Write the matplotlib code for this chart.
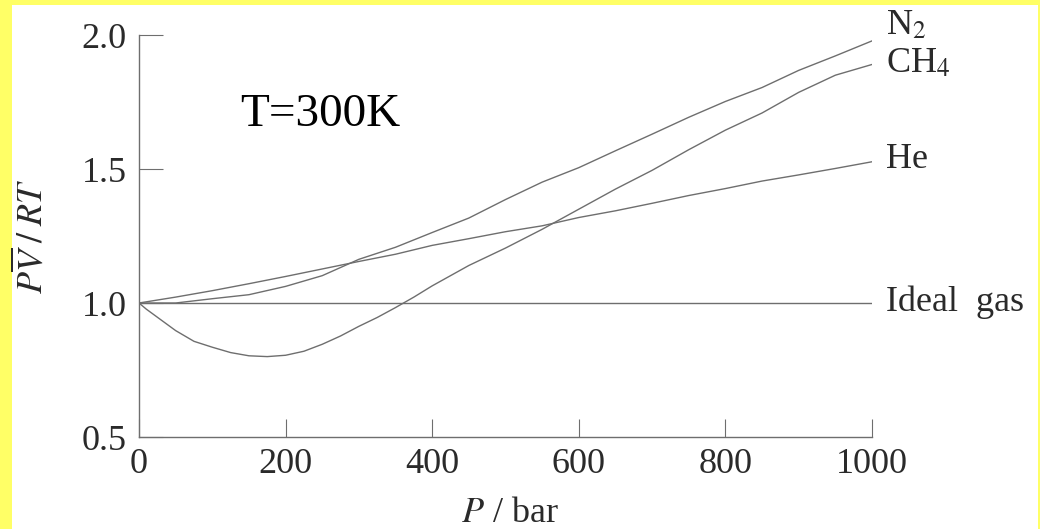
import matplotlib
matplotlib.use("Agg")
import matplotlib.pyplot as plt
from matplotlib.patches import Rectangle

# 数据：T=300K 时各气体的压缩因子 PV/RT
p_n2 = [0, 50, 100, 150, 200, 250, 300, 350, 400, 450, 500, 550, 600, 650, 700, 750, 800, 850, 900, 950, 1000]
z_n2 = [1.0, 1.0, 1.016, 1.031, 1.062, 1.102, 1.163, 1.208, 1.263, 1.317, 1.386, 1.451, 1.505, 1.568, 1.63,
        1.693, 1.752, 1.804, 1.868, 1.922, 1.978]

p_he = [0, 50, 100, 150, 200, 250, 300, 350, 400, 450, 500, 550, 600, 650, 700, 750, 800, 850, 900, 950, 1000]
z_he = [1.0, 1.022, 1.046, 1.072, 1.099, 1.127, 1.155, 1.182, 1.215, 1.24, 1.266, 1.288, 1.319, 1.344, 1.372,
        1.401, 1.427, 1.455, 1.478, 1.502, 1.527]

p_ch4 = [0, 10, 25, 50, 75, 100, 125, 150, 175, 200, 225, 250, 275, 300, 325, 350, 375, 400,
         450, 500, 550, 600, 650, 700, 750, 800, 850, 900, 950, 1000]
z_ch4 = [1.0, 0.977, 0.947, 0.897, 0.857, 0.835, 0.815, 0.803, 0.800, 0.805, 0.82, 0.846, 0.877, 0.913,
         0.946, 0.983, 1.022, 1.064, 1.14, 1.205, 1.275, 1.35, 1.425, 1.495, 1.572, 1.645, 1.709, 1.786,
         1.85, 1.89]

p_ideal = [0, 1000]
z_ideal = [1.0, 1.0]

x_ticks = [0, 200, 400, 600, 800, 1000]
y_ticks = [0.5, 1.0, 1.5, 2.0]

# 曲线末端的标签：(文字, y位置)
labels = [("N$_2$", 2.004), ("CH$_4$", 1.86), ("He", 1.504), ("Ideal  gas", 0.969)]

plt.rcParams['font.family'] = ['Liberation Serif', 'DejaVu Serif']
plt.rcParams['mathtext.fontset'] = 'stix'

W, H = 1040, 529
fig = plt.figure(figsize=(W / 100, H / 100), dpi=100, facecolor='#ffff66')
# 白色底板，留出黄色边框
fig.patches.append(Rectangle((12 / W, 0), (1038 - 12) / W, (H - 5) / H,
                             transform=fig.transFigure, facecolor='white', edgecolor='none', zorder=-1))

ax = fig.add_axes([139 / W, (H - 437) / H, (872 - 139) / W, (437 - 35) / H])
ax.set_facecolor('none')

line_c = '#6e6e6e'
ax.plot(p_ideal, z_ideal, color=line_c, lw=1.0)
ax.plot(p_n2, z_n2, color=line_c, lw=1.0)
ax.plot(p_he, z_he, color=line_c, lw=1.0)
ax.plot(p_ch4, z_ch4, color=line_c, lw=1.0)

ax.set_xlim(0, 1000)
ax.set_ylim(0.5, 2.0)
ax.set_xticks(x_ticks)
ax.set_yticks(y_ticks)
ax.set_xticklabels([str(v) for v in x_ticks])
ax.set_yticklabels([f"{v:.1f}" for v in y_ticks])

for s in ['top', 'right']:
    ax.spines[s].set_visible(False)
for s in ['left', 'bottom']:
    ax.spines[s].set_color(line_c)
    ax.spines[s].set_linewidth(1.0)

ax.tick_params(axis='x', direction='in', length=13, width=0.8, color=line_c,
               labelsize=26, labelcolor='#2a2a2a', pad=8)
ax.tick_params(axis='y', direction='in', length=17, width=0.8, color=line_c,
               labelsize=26, labelcolor='#2a2a2a', pad=9)

for txt, y in labels:
    ax.text(1019, y, txt, fontsize=26, color='#2a2a2a', va='baseline', ha='left', clip_on=False)

# 坐标轴标题
fig.text(33 / W, 1 - 236 / H, r'$P\overline{V}\;/\;RT$', rotation=90, fontsize=26,
         color='#2a2a2a', ha='center', va='center')
fig.text(510 / W, 1 - 522 / H, r'$P$ / bar', fontsize=26, color='#2a2a2a', ha='center', va='baseline')

fig.text(240 / W, 1 - 126 / H, 'T=300K', fontsize=34, color='black', ha='left', va='baseline')

fig.savefig('out.png', dpi=100, facecolor=fig.get_facecolor())
